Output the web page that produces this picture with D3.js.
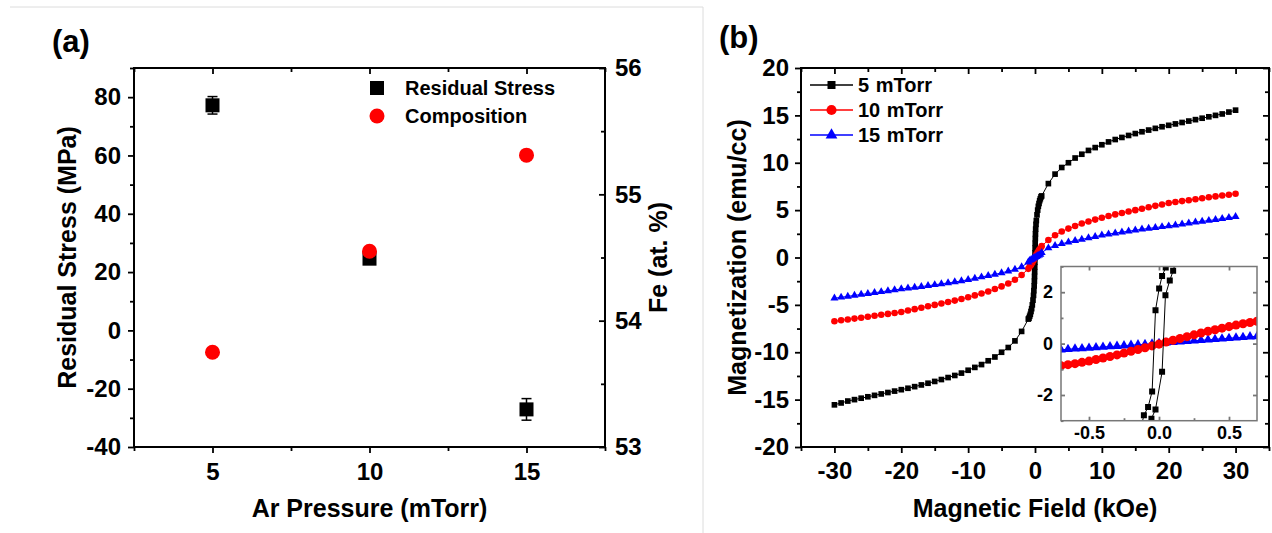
<!DOCTYPE html>
<html>
<head>
<meta charset="utf-8">
<script src="https://cdn.jsdelivr.net/npm/d3@7"></script>
<style>
  body { margin: 0; background: #fff; }
  svg text { font-family: "Liberation Sans", Arial, sans-serif; font-weight: bold; fill: #000; }
</style>
</head>
<body>
<svg id="chart" width="1272" height="533"></svg>
<script>
// ---- panel (a) data ----
const pressure = [5, 10, 15];
const stress = [77.2, 24.6, -27.1];
const stressErr = [3.0, 1.5, 3.7];
const feContent = [53.75, 54.55, 55.31];

const pressureTicks = [5, 10, 15];
const pressureMinor = [2.5, 7.5, 12.5, 17.5];
const stressTicks = [-40, -20, 0, 20, 40, 60, 80];
const stressMinor = [-30, -10, 10, 30, 50, 70, 90];
const feTicks = [53, 54, 55, 56];
const feMinor = [53.5, 54.5, 55.5];

// ---- panel (b) data: hysteresis loops ----
const seriesNames = ["5 mTorr", "10 mTorr", "15 mTorr"];
const fieldCoarse = [-30, -29, -28, -27, -26, -25, -24, -23, -22, -21, -20, -19, -18, -17, -16,
  -15, -14, -13, -12, -11, -10, -9, -8, -7, -6, -5, -4, -3, -2, -1,
  1, 2, 3, 4, 5, 6, 7, 8, 9, 10, 11, 12, 13, 14, 15,
  16, 17, 18, 19, 20, 21, 22, 23, 24, 25, 26, 27, 28, 29, 30];
const magCoarse5 = [-15.55, -15.35, -15.15, -15.0, -14.85, -14.7, -14.55, -14.4, -14.25, -14.1,
  -13.95, -13.8, -13.63, -13.45, -13.27, -13.08, -12.88, -12.67, -12.45, -12.2,
  -11.9, -11.6, -11.3, -10.9, -10.5, -10.0, -9.5, -8.8, -7.8, -6.5,
  6.5, 7.8, 8.8, 9.5, 10.0, 10.5, 10.9, 11.3, 11.6, 11.9,
  12.2, 12.45, 12.67, 12.88, 13.08, 13.27, 13.45, 13.63, 13.8, 13.95,
  14.1, 14.25, 14.4, 14.55, 14.7, 14.85, 15.0, 15.15, 15.35, 15.55];
const magCoarse10 = [-6.73, -6.63, -6.54, -6.45, -6.35, -6.25, -6.15, -6.05, -5.95, -5.85,
  -5.75, -5.6, -5.45, -5.3, -5.15, -5.0, -4.85, -4.7, -4.55, -4.38,
  -4.2, -4.0, -3.8, -3.58, -3.33, -3.05, -2.75, -2.35, -1.85, -1.2,
  1.2, 1.85, 2.35, 2.75, 3.05, 3.33, 3.58, 3.8, 4.0, 4.2,
  4.38, 4.55, 4.7, 4.85, 5.0, 5.15, 5.3, 5.45, 5.6, 5.75,
  5.85, 5.95, 6.05, 6.15, 6.25, 6.35, 6.45, 6.54, 6.63, 6.73];
const magCoarse15 = [-4.3, -4.2, -4.1, -4.0, -3.9, -3.81, -3.72, -3.62, -3.52, -3.42,
  -3.32, -3.24, -3.16, -3.07, -2.98, -2.88, -2.78, -2.68, -2.58, -2.47,
  -2.35, -2.2, -2.06, -1.92, -1.78, -1.62, -1.45, -1.25, -1.0, -0.5,
  0.5, 1.0, 1.25, 1.45, 1.62, 1.78, 1.92, 2.06, 2.2, 2.35,
  2.47, 2.58, 2.68, 2.78, 2.88, 2.98, 3.07, 3.16, 3.24, 3.32,
  3.42, 3.52, 3.62, 3.72, 3.81, 3.9, 4.0, 4.1, 4.2, 4.3];

// low-field points (|H| < 1 kOe)
const fieldNear5 = [-0.9, -0.8, -0.7, -0.6, -0.5, -0.4, -0.3, -0.22, -0.17, -0.12, -0.09, -0.07, -0.05, -0.04, -0.02,
  -0.01, 0, 0.02, 0.03, 0.05, 0.07, 0.1, 0.15, 0.2, 0.3, 0.4, 0.5, 0.6, 0.7, 0.8, 0.9];
const magNear5 = [-6.4, -6.2, -6.0, -5.7, -5.4, -5.0, -4.5, -4.0, -3.5, -3.0, -2.5, -2.0, -1.5, -1.0, -0.5,
  0, 0.5, 1.0, 1.5, 2.0, 2.5, 3.0, 3.5, 3.9, 4.5, 5.0, 5.4, 5.7, 6.0, 6.2, 6.4];
const fieldNear10 = [-0.8, -0.6, -0.4, -0.2, 0, 0.2, 0.4, 0.6, 0.8];
const magNear10 = [-0.95, -0.78, -0.56, -0.3, 0, 0.3, 0.56, 0.78, 0.95];
const fieldNear15 = [-0.8, -0.6, -0.4, -0.2, 0, 0.2, 0.4, 0.6, 0.8];
const magNear15 = [-0.32, -0.24, -0.16, -0.08, 0, 0.08, 0.16, 0.24, 0.32];

// inset data
const insetField = [-0.7, -0.65, -0.6, -0.55, -0.5, -0.45, -0.4, -0.35, -0.3, -0.25, -0.2, -0.15, -0.1, -0.05,
  0, 0.05, 0.1, 0.15, 0.2, 0.25, 0.3, 0.35, 0.4, 0.45, 0.5, 0.55, 0.6, 0.65, 0.7];
const insetMag10 = [-0.86, -0.82, -0.78, -0.73, -0.68, -0.62, -0.56, -0.5, -0.44, -0.37, -0.3, -0.23, -0.16, -0.09,
  -0.02, 0.06, 0.13, 0.2, 0.27, 0.34, 0.41, 0.48, 0.54, 0.6, 0.66, 0.72, 0.77, 0.82, 0.87];
const insetMag15 = [-0.24, -0.22, -0.2, -0.19, -0.17, -0.15, -0.13, -0.11, -0.1, -0.08, -0.06, -0.04, -0.03, -0.01,
  0.01, 0.03, 0.05, 0.07, 0.09, 0.11, 0.13, 0.15, 0.17, 0.19, 0.21, 0.23, 0.25, 0.27, 0.28];
const insetFieldUp5 = [-0.13, -0.108, -0.078, -0.049, -0.025, 0.001, 0.022, 0.048, 0.07];
const insetMagUp5 = [-3.3, -2.79, -2.47, -1.86, 1.30, 2.14, 2.63, 2.96, 3.3];
const insetFieldDown5 = [-0.08, -0.054, -0.025, 0.022, 0.046, 0.077, 0.101, 0.12];
const insetMagDown5 = [-3.3, -2.92, -2.56, -1.1, 1.88, 2.46, 2.83, 3.2];

const fieldTicks = [-30, -20, -10, 0, 10, 20, 30];
const fieldMinor = [-35, -25, -15, -5, 5, 15, 25, 35];
const magTicks = [-20, -15, -10, -5, 0, 5, 10, 15, 20];
const magMinor = [-17.5, -12.5, -7.5, -2.5, 2.5, 7.5, 12.5, 17.5];
const insetFieldTicks = [-0.5, 0, 0.5];
const insetFieldMinor = [-0.25, 0.25];
const insetMagTicks = [-2, 0, 2];
const insetMagMinor = [-3, -1, 1, 3];

const colors = ["#000000", "#ff0000", "#0000ff"];

const svg = d3.select("#chart");

// slide borders
svg.append("line").attr("x1", 10).attr("x2", 703).attr("y1", 7).attr("y2", 7)
  .attr("stroke", "#dcdcdc").attr("stroke-width", 1);
svg.append("line").attr("x1", 703).attr("x2", 703).attr("y1", 7).attr("y2", 533)
  .attr("stroke", "#dcdcdc").attr("stroke-width", 1);

// axis helper
function axis(g, fn, scale, values, size, pos, fmt, fontSize, pad, color) {
  const a = g.append("g")
    .attr("transform", pos)
    .call(fn(scale).tickValues(values).tickSizeInner(size).tickSizeOuter(0)
      .tickPadding(pad || 0).tickFormat(fmt || (() => "")));
  a.select(".domain").remove();
  a.selectAll("line").attr("stroke", color || "#000").attr("stroke-width", 1.8);
  a.selectAll("text").style("font-size", (fontSize || 24) + "px");
  return a;
}
const plain = d => String(d);

// ================= panel (a) =================
const A = { left: 134, right: 605, top: 68, bottom: 447 };
const xA = d3.scaleLinear().domain([2.5, 17.5]).range([A.left, A.right]);
const yA = d3.scaleLinear().domain([-40, 90]).range([A.bottom, A.top]);
const yFe = d3.scaleLinear().domain([53, 56]).range([A.bottom, A.top]);

const ga = svg.append("g");
axis(ga, d3.axisBottom, xA, pressureTicks, 6, `translate(0,${A.bottom})`, plain, 24, 10);
axis(ga, d3.axisBottom, xA, pressureMinor, 4, `translate(0,${A.bottom})`);
axis(ga, d3.axisTop, xA, pressureTicks, -6, `translate(0,${A.top})`);
axis(ga, d3.axisTop, xA, pressureMinor, -4, `translate(0,${A.top})`);
axis(ga, d3.axisLeft, yA, stressTicks, 6, `translate(${A.left},0)`, plain, 24, 7);
axis(ga, d3.axisLeft, yA, stressMinor, 4, `translate(${A.left},0)`);
axis(ga, d3.axisRight, yFe, feTicks, -6, `translate(${A.right},0)`, plain, 24, 10);
axis(ga, d3.axisRight, yFe, feMinor, -4, `translate(${A.right},0)`);

ga.append("rect")
  .attr("x", A.left).attr("y", A.top)
  .attr("width", A.right - A.left).attr("height", A.bottom - A.top)
  .attr("fill", "none").attr("stroke", "#000").attr("stroke-width", 2);

// error bars + squares
const stressData = pressure.map((p, i) => ({ p, v: stress[i], e: stressErr[i] }));
const eb = ga.selectAll(".eb").data(stressData).enter().append("g");
eb.append("line")
  .attr("x1", d => xA(d.p)).attr("x2", d => xA(d.p))
  .attr("y1", d => yA(d.v - d.e)).attr("y2", d => yA(d.v + d.e))
  .attr("stroke", "#000").attr("stroke-width", 1.5);
[-1, 1].forEach(s => {
  eb.append("line")
    .attr("x1", d => xA(d.p) - 5).attr("x2", d => xA(d.p) + 5)
    .attr("y1", d => yA(d.v + s * d.e)).attr("y2", d => yA(d.v + s * d.e))
    .attr("stroke", "#000").attr("stroke-width", 1.5);
});
eb.append("rect")
  .attr("x", d => xA(d.p) - 7).attr("y", d => yA(d.v) - 7)
  .attr("width", 14).attr("height", 14).attr("fill", "#000");

// composition circles
ga.selectAll(".fe").data(pressure).enter().append("circle")
  .attr("cx", d => xA(d)).attr("cy", (d, i) => yFe(feContent[i]))
  .attr("r", 7.5).attr("fill", "#ff0000");

// legend (a)
ga.append("rect").attr("x", 370).attr("y", 81).attr("width", 14).attr("height", 14).attr("fill", "#000");
ga.append("circle").attr("cx", 377).attr("cy", 116).attr("r", 7.5).attr("fill", "#ff0000");
ga.append("text").attr("x", 405).attr("y", 88).attr("dy", "0.35em").style("font-size", "20px").text("Residual Stress");
ga.append("text").attr("x", 405).attr("y", 116).attr("dy", "0.35em").style("font-size", "20px").text("Composition");

// titles (a)
ga.append("text").attr("x", 52).attr("y", 52).style("font-size", "31px").text("(a)");
ga.append("text").attr("text-anchor", "middle").attr("dy", "0.35em")
  .attr("transform", `translate(67,${(A.top + A.bottom) / 2}) rotate(-90)`)
  .style("font-size", "25px").text("Residual Stress (MPa)");
ga.append("text").attr("text-anchor", "middle").attr("dy", "0.35em")
  .attr("x", (A.left + A.right) / 2).attr("y", 508)
  .style("font-size", "25px").text("Ar Pressure (mTorr)");
ga.append("text").attr("text-anchor", "middle").attr("dy", "0.35em")
  .attr("transform", `translate(658,${(A.top + A.bottom) / 2}) rotate(-90)`)
  .style("font-size", "25px").text("Fe (at. %)");

// ================= panel (b) =================
const B = { left: 801, right: 1269, top: 68, bottom: 447 };
const xB = d3.scaleLinear().domain([-35, 35]).range([B.left, B.right]);
const yB = d3.scaleLinear().domain([-20, 20]).range([B.bottom, B.top]);

const gb = svg.append("g");
axis(gb, d3.axisBottom, xB, fieldTicks, 6, `translate(0,${B.bottom})`, plain, 24, 9);
axis(gb, d3.axisBottom, xB, fieldMinor, 4, `translate(0,${B.bottom})`);
axis(gb, d3.axisTop, xB, fieldTicks, -6, `translate(0,${B.top})`);
axis(gb, d3.axisTop, xB, fieldMinor, -4, `translate(0,${B.top})`);
axis(gb, d3.axisLeft, yB, magTicks, 6, `translate(${B.left},0)`, plain, 24, 6);
axis(gb, d3.axisLeft, yB, magMinor, 4, `translate(${B.left},0)`);
axis(gb, d3.axisRight, yB, magTicks, -6, `translate(${B.right},0)`);
axis(gb, d3.axisRight, yB, magMinor, -4, `translate(${B.right},0)`);

gb.append("rect")
  .attr("x", B.left).attr("y", B.top)
  .attr("width", B.right - B.left).attr("height", B.bottom - B.top)
  .attr("fill", "none").attr("stroke", "#000").attr("stroke-width", 2);

function merge(f1, m1, f2, m2) {
  return f1.map((h, i) => [h, m1[i]]).concat(f2.map((h, i) => [h, m2[i]])).sort((a, b) => a[0] - b[0]);
}
const loops = [
  merge(fieldCoarse, magCoarse5, fieldNear5, magNear5),
  merge(fieldCoarse, magCoarse10, fieldNear10, magNear10),
  merge(fieldCoarse, magCoarse15, fieldNear15, magNear15)
];

const symbols = [d3.symbolSquare, d3.symbolCircle, d3.symbolTriangle];
const mainSizes = [32, 34, 28];

function drawSeries(g, pts, x, y, i, size) {
  g.append("path").datum(pts)
    .attr("fill", "none").attr("stroke", colors[i]).attr("stroke-width", 1)
    .attr("d", d3.line().x(d => x(d[0])).y(d => y(d[1])));
  g.selectAll(null).data(pts).enter().append("path")
    .attr("transform", d => `translate(${x(d[0])},${y(d[1])})`)
    .attr("d", d3.symbol().type(symbols[i]).size(size))
    .attr("fill", colors[i]);
}
loops.forEach((pts, i) => drawSeries(gb, pts, xB, yB, i, mainSizes[i]));

// legend (b)
const legRows = [85, 110, 135];
const legSizes = [64, 80, 60];
seriesNames.forEach((name, i) => {
  gb.append("line").attr("x1", 810).attr("x2", 853).attr("y1", legRows[i]).attr("y2", legRows[i])
    .attr("stroke", colors[i]).attr("stroke-width", 1.5);
  gb.append("path").attr("transform", `translate(831.5,${legRows[i]})`)
    .attr("d", d3.symbol().type(symbols[i]).size(legSizes[i])).attr("fill", colors[i]);
  gb.append("text").attr("x", 858).attr("y", legRows[i]).attr("dy", "0.35em")
    .style("font-size", "20px").style("word-spacing", "1px").text(name);
});

// titles (b)
gb.append("text").attr("x", 719).attr("y", 48).style("font-size", "31px").text("(b)");
gb.append("text").attr("text-anchor", "middle").attr("dy", "0.35em")
  .attr("transform", `translate(737,${(B.top + B.bottom) / 2}) rotate(-90)`)
  .style("font-size", "25px").text("Magnetization (emu/cc)");
gb.append("text").attr("text-anchor", "middle").attr("dy", "0.35em")
  .attr("x", (B.left + B.right) / 2).attr("y", 508)
  .style("font-size", "25px").text("Magnetic Field (kOe)");

// ---- inset ----
const I = { left: 1061, right: 1257, top: 266.5, bottom: 420.7 };
const xI = d3.scaleLinear().domain([-0.7, 0.7]).range([I.left, I.right]);
const yI = d3.scaleLinear().domain([-3, 3]).range([I.bottom, I.top]);

const gi = svg.append("g");
gi.append("rect").attr("x", I.left).attr("y", I.top)
  .attr("width", I.right - I.left).attr("height", I.bottom - I.top).attr("fill", "#fff");
svg.append("clipPath").attr("id", "insetClip").append("rect")
  .attr("x", I.left).attr("y", I.top).attr("width", I.right - I.left).attr("height", I.bottom - I.top);

const gInner = gi.append("g").attr("clip-path", "url(#insetClip)");
drawSeries(gInner, insetField.map((h, i) => [h, insetMag15[i]]), xI, yI, 2, 40);
drawSeries(gInner, insetField.map((h, i) => [h, insetMag10[i]]), xI, yI, 1, 64);
drawSeries(gInner, insetFieldUp5.map((h, i) => [h, insetMagUp5[i]]), xI, yI, 0, 36);
drawSeries(gInner, insetFieldDown5.map((h, i) => [h, insetMagDown5[i]]), xI, yI, 0, 36);

const insetFmt = d => d.toFixed(1);
axis(gi, d3.axisBottom, xI, insetFieldTicks, -4, `translate(0,${I.bottom})`, insetFmt, 18, 6, "#777");
axis(gi, d3.axisBottom, xI, insetFieldMinor, -2.5, `translate(0,${I.bottom})`, null, 18, 0, "#777");
axis(gi, d3.axisTop, xI, insetFieldTicks, -4, `translate(0,${I.top})`, null, 18, 0, "#777");
axis(gi, d3.axisLeft, yI, insetMagTicks, -4, `translate(${I.left},0)`, plain, 18, 8, "#777");
axis(gi, d3.axisLeft, yI, insetMagMinor, -2.5, `translate(${I.left},0)`, null, 18, 0, "#777");
axis(gi, d3.axisRight, yI, insetMagTicks, -4, `translate(${I.right},0)`, null, 18, 0, "#777");

gi.append("rect").attr("x", I.left).attr("y", I.top)
  .attr("width", I.right - I.left).attr("height", I.bottom - I.top)
  .attr("fill", "none").attr("stroke", "#777").attr("stroke-width", 1.5);
</script>
</body>
</html>
